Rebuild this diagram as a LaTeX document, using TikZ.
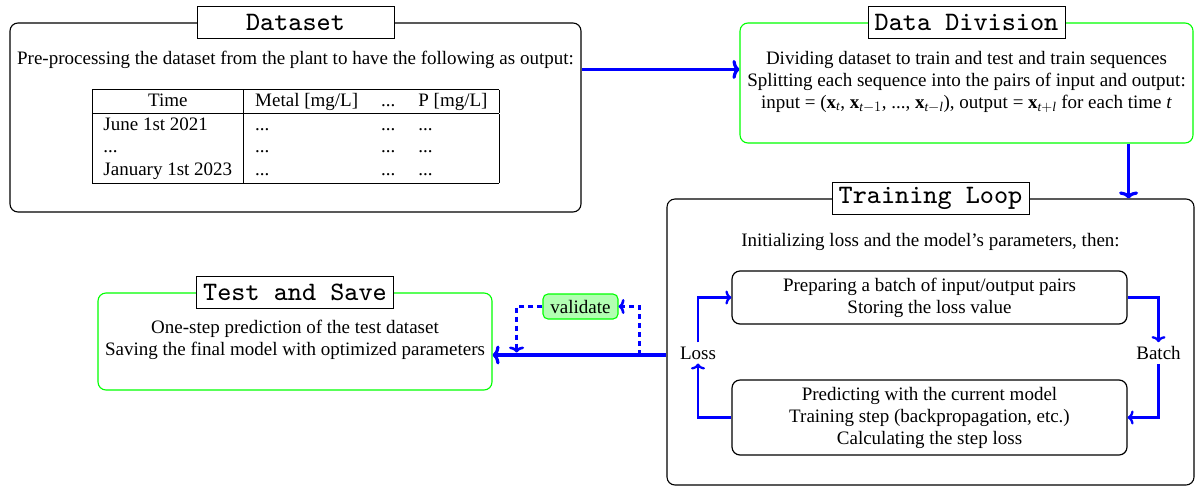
\documentclass[tikz,border=0pt]{standalone}
\usepackage{fontspec}
\setmainfont{Liberation Serif}
\newfontfamily\titlefont{lmmono8-regular}[Extension=.otf]
\usetikzlibrary{calc,arrows.meta}
\begin{document}
\begin{tikzpicture}[x=1pt,y=-1pt,
  txt/.style={font=\fontsize{19}{22}\selectfont, align=center, inner sep=0pt},
  ttl/.style={draw=black, fill=white, font=\fontsize{26.6}{30}\titlefont, minimum width=197pt, minimum height=32pt, inner sep=0pt, line width=0.9pt},
  outer/.style={draw=black, rounded corners=8pt, line width=1.1pt, inner sep=0pt},
  greenbox/.style={outer, draw=green},
  inner box/.style={draw=black, rounded corners=8pt, line width=1.2pt, inner sep=0pt},
  mainarrow/.style={draw=blue, line width=3.2pt, -{To[length=7pt,width=19pt]}},
  looparrow/.style={draw=blue, line width=2.3pt, -{To[length=6pt,width=14pt]}},
  dasharrow/.style={draw=blue, line width=2.6pt, dash pattern=on 5pt off 4pt, -{To[length=6pt,width=15pt]}},
]
\useasboundingbox (0,0) rectangle (1198,488);

% Dataset
\node[outer, minimum width=571pt, minimum height=189pt] (dataset) at (295.5,117.5) {};
\node[ttl] (dsT) at (dataset.north) {Dataset};
\node[txt] (ds1) at (295.5,60) {Pre-processing the dataset from the plant to have the following as output:};
\node[txt] (tab) at (295.5,136.5) {\setlength{\tabcolsep}{11.5pt}\setlength{\arrayrulewidth}{0.9pt}\renewcommand{\arraystretch}{1.04}%
\begin{tabular}{|l|lll|}
\hline
\multicolumn{1}{|c|}{Time} & Metal [mg/L] & ... & P [mg/L]\\
\hline
June 1st 2021 & ... & ... & ...\\
... & ... & ... & ...\\
January 1st 2023 & ... & ... & ...\\
\hline
\end{tabular}};

% Data Division
\node[greenbox, minimum width=453pt, minimum height=120pt] (dd) at (966.5,83) {};
\node[ttl] (ddT) at (dd.north) {Data Division};
\node[txt] (dd1) at (966.5,82) {Dividing dataset to train and test and train sequences\\
Splitting each sequence into the pairs of input and output:\\
input = (\textbf{x}$_{\mathit{t}}$, \textbf{x}$_{\mathit{t}-1}$, ..., \textbf{x}$_{\mathit{t}-\mathit{l}}$), output = \textbf{x}$_{\mathit{t}+\mathit{l}}$ for each time \textit{t}};

% Training Loop
\node[outer, minimum width=527pt, minimum height=286pt] (train) at (930.5,342) {};
\node[ttl] (trT) at (train.north) {Training Loop};
\node[txt] (tr1) at (930.5,242) {Initializing loss and the model’s parameters, then:};
\node[inner box, minimum width=395pt, minimum height=53pt] (b1) at (929.5,297.5) {};
\node[txt] (b1t) at (b1.center) {Preparing a batch of input/output pairs\\Storing the loss value};
\node[inner box, minimum width=395pt, minimum height=75pt] (b2) at (929.5,417.5) {};
\node[txt] (b2t) at (b2.center) {Predicting with the current model\\Training step (backpropagation, etc.)\\Calculating the step loss};
\node[txt, inner sep=4pt] (loss) at (698,353) {Loss};
\node[txt, inner sep=4pt] (batch) at (1158.5,353) {Batch};

% Test and Save
\node[greenbox, minimum width=394pt, minimum height=97pt] (ts) at (295,341.5) {};
\node[ttl] (tsT) at (ts.north) {Test and Save};
\node[txt] (ts1) at (295,340) {One-step prediction of the test dataset\\Saving the final model with optimized parameters};

% validate
\node[draw=green, fill=green!30, line width=1.1pt, rounded corners=5pt, minimum width=75pt, minimum height=25pt, inner sep=0pt, font=\fontsize{19}{22}\selectfont] (val) at (580.5,306.5) {validate};

% main arrows
\draw[mainarrow] ([yshift=-47pt]dataset.north east) -- ([yshift=-47pt]dd.north west);
\draw[mainarrow] ([xshift=-65pt]dd.south east) -- ([xshift=-65pt]dd.south east |- train.north);
\draw[mainarrow] ([yshift=-13pt]train.west) -- ([yshift=-13pt]train.west -| ts.east);

% validate loop
\coordinate (vsrc) at ([xshift=-27pt,yshift=-13pt]train.west);
\coordinate (vdst) at ([xshift=24pt,yshift=-11pt]ts.east);
\draw[dasharrow] (vsrc) |- (val.east);
\draw[dasharrow] (val.west) -| (vdst);

% training loop arrows
\draw[looparrow] (b1.east) -| (batch.north);
\draw[looparrow] (batch.south) |- (b2.east);
\draw[looparrow] (b2.west) -| (loss.south);
\draw[looparrow] (loss.north) |- (b1.west);
\end{tikzpicture}
\end{document}
